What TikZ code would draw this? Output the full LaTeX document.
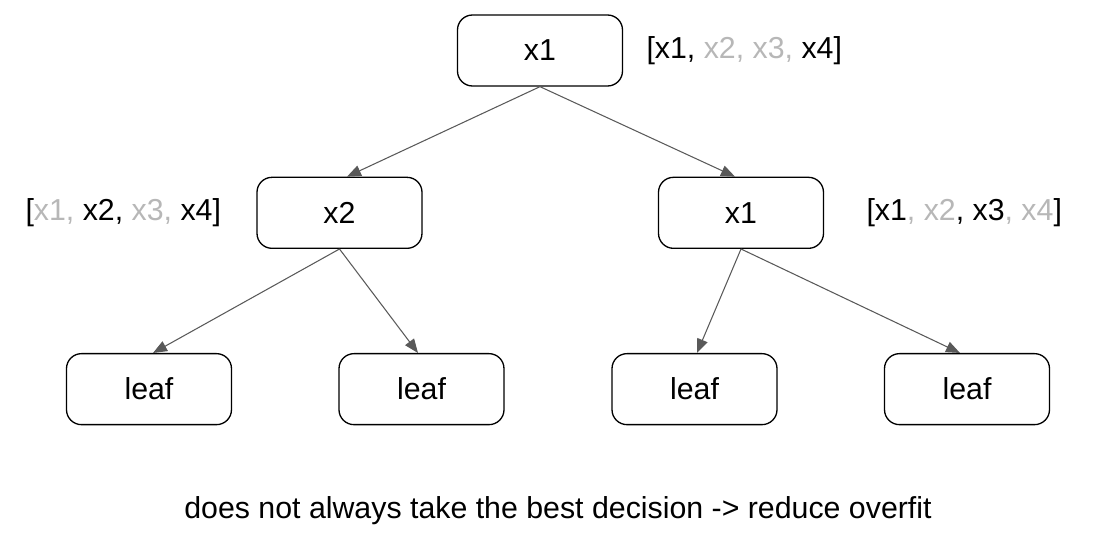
\documentclass[tikz,border=0pt]{standalone}
\usepackage{fontspec}
\setmainfont{Liberation Sans}
\usetikzlibrary{arrows.meta,positioning,calc}
\definecolor{treeline}{HTML}{595959}
\definecolor{treegray}{HTML}{B7B7B7}
\newcommand{\dimmed}[1]{\textcolor{treegray}{#1}}
\tikzset{
  split/.style={
    draw=black,
    line width=0.75pt,
    rounded corners=0.3cm,
    fill=white,
    minimum width=3.3cm,
    minimum height=1.42cm,
    inner sep=0pt,
    font=\fontsize{17.25}{20}\selectfont
  },
  features/.style={inner sep=0pt,font=\fontsize{17.25}{20}\selectfont},
  arrow/.style={-{Triangle[length=0.28cm,width=0.22cm]},line width=0.6pt,draw=treeline}
}
\begin{document}
\begin{tikzpicture}
  \useasboundingbox (-10.8,1.01) rectangle (11.2,-9.87);
  \node[split] (root) at (0,0) {x1};
  \node[split, below=1.8cm of root, xshift=-4.01cm] (left) {x2};
  \node[split, below=1.8cm of root, xshift=4.02cm] (right) {x1};

  \node[split, below=2.08cm of left, xshift=-3.81cm] (leafa) {leaf};
  \node[split, below=2.08cm of left, xshift=1.64cm] (leafb) {leaf};
  \node[split, below=2.08cm of right, xshift=-0.93cm] (leafc) {leaf};
  \node[split, below=2.08cm of right, xshift=4.52cm] (leafd) {leaf};

  \node[features, right=0.46cm of root] (rootset) {[x1, \dimmed{x2, x3,} x4]};
  \node[features, left=0.7cm of left] (leftset) {[\dimmed{x1,} x2, \dimmed{x3,} x4]};
  \node[features, right=0.84cm of right] (rightset) {[x1\dimmed{, x2}, x3\dimmed{, x4}]};

  \node[features] (note) at ($(leafb.south)!0.5!(leafc.south)+(0,-1.7)$)
    {does not always take the best decision -> reduce overfit};

  \draw[arrow] (root.south) -- ([xshift=0.15cm]left.north);
  \draw[arrow] (root.south) -- ([xshift=-0.12cm]right.north);
  \draw[arrow] (left.south) -- ([xshift=0.08cm]leafa.north);
  \draw[arrow] (left.south) -- ([xshift=-0.07cm]leafb.north);
  \draw[arrow] (right.south) -- ([xshift=0.05cm]leafc.north);
  \draw[arrow] (right.south) -- ([xshift=-0.14cm]leafd.north);
\end{tikzpicture}
\end{document}
